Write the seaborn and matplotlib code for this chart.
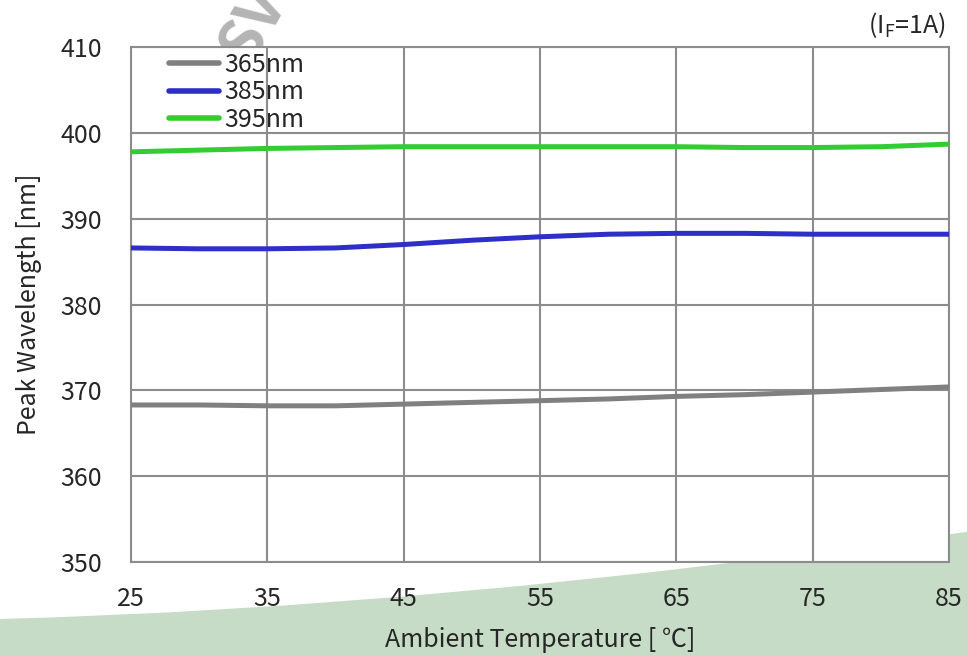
import numpy as np
import pandas as pd
import matplotlib.pyplot as plt
import seaborn as sns
from matplotlib.patches import PathPatch
from matplotlib.path import Path

temps = [25, 30, 35, 40, 45, 50, 55, 60, 65, 70, 75, 80, 85]
wl_365 = [368.3, 368.3, 368.2, 368.2, 368.4, 368.6, 368.8, 369.0, 369.3, 369.5, 369.8, 370.1, 370.4]
wl_385 = [386.6, 386.5, 386.5, 386.6, 387.0, 387.5, 387.9, 388.2, 388.3, 388.3, 388.2, 388.2, 388.2]
wl_395 = [397.8, 398.0, 398.2, 398.3, 398.4, 398.4, 398.4, 398.4, 398.4, 398.3, 398.3, 398.4, 398.7]
series_names = ['365nm', '385nm', '395nm']
colors = ['#808080', '#2e2ec8', '#33cc33']

df = pd.DataFrame({
    'temp': temps * 3,
    'wl': wl_365 + wl_385 + wl_395,
    'series': np.repeat(series_names, len(temps)),
})

sns.set_style('white')
plt.rcParams['font.family'] = ['Noto Sans CJK KR', 'DejaVu Sans']

fig = plt.figure(figsize=(9.67, 6.55), dpi=100)

# decorative green swoosh behind everything
verts = [(0, 0), (0, 0.055), (0.45, 0.072), (1.0, 0.188), (1.0, 0), (0, 0)]
codes = [Path.MOVETO, Path.LINETO, Path.CURVE3, Path.CURVE3, Path.LINETO, Path.CLOSEPOLY]
swoosh = PathPatch(Path(verts, codes), transform=fig.transFigure,
                   facecolor='#c6dcc6', edgecolor='none', zorder=-10)
fig.add_artist(swoosh)

# faint watermark near the top edge
fig.text(0.262, 0.962, 'SV', rotation=60, fontsize=44, fontweight='bold',
         color='#b4b4b4', ha='center', va='center', zorder=-5)

ax = fig.add_axes([0.1355, 0.142, 0.8459, 0.786], zorder=1)
ax.set_facecolor('white')

sns.lineplot(data=df, x='temp', y='wl', hue='series', palette=colors,
             linewidth=3.6, ax=ax, zorder=3)

ax.set_xlim(25, 85)
ax.set_ylim(350, 410)
ax.set_xticks(range(25, 86, 10))
ax.set_yticks(range(350, 411, 10))
ax.grid(True, color='#8c8c8c', linewidth=1.5)
for s in ax.spines.values():
    s.set_color('#8c8c8c')
    s.set_linewidth(1.5)
ax.tick_params(axis='both', length=0, labelsize=18)
ax.tick_params(axis='y', pad=21)
ax.tick_params(axis='x', pad=17)

ax.set_xlabel('Ambient Temperature [ ℃]', fontsize=18, labelpad=11)
ax.set_ylabel('Peak Wavelength [nm]', fontsize=18, labelpad=13)

leg = ax.legend(loc='upper left', bbox_to_anchor=(0.034, 1.01), frameon=False,
                fontsize=18, handlelength=2.0, handletextpad=0.2,
                labelspacing=0.05, borderaxespad=0)
for line in leg.get_lines():
    line.set_linewidth(4)

fig.text(0.978, 0.962, '(I$_\\mathregular{F}$=1A)', ha='right', va='center', fontsize=18)

fig.savefig('out.png', dpi=100)
